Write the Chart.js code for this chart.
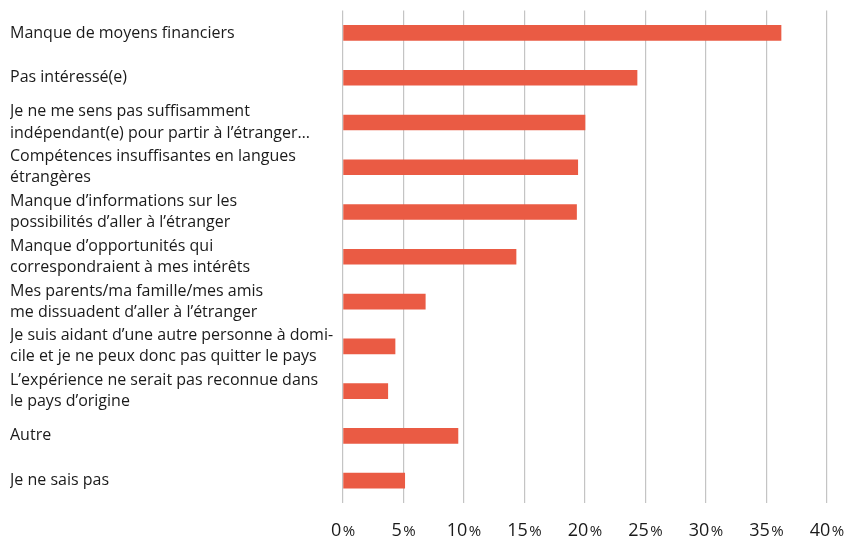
<!DOCTYPE html>
<html>
<head>
<meta charset="utf-8">
<script src="https://cdn.jsdelivr.net/npm/chart.js@4.4.1/dist/chart.umd.min.js"></script>
<style>
  html, body { margin: 0; padding: 0; background: #ffffff; }
  #wrap { width: 847px; height: 538px; position: relative; }
</style>
</head>
<body>
<div id="wrap"><canvas id="c"></canvas></div>
<script>
const categories = [
  "Manque de moyens financiers",
  "Pas intéressé(e)",
  ["Je ne me sens pas suffisamment", "indépendant(e) pour partir à l’étranger…"],
  ["Compétences insuffisantes en langues", "étrangères"],
  ["Manque d’informations sur les", "possibilités d’aller à l’étranger"],
  ["Manque d’opportunités qui", "correspondraient à mes intérêts"],
  ["Mes parents/ma famille/mes amis", "me dissuadent d’aller à l’étranger"],
  ["Je suis aidant d’une autre personne à domi-", "cile et je ne peux donc pas quitter le pays"],
  ["L’expérience ne serait pas reconnue dans", "le pays d’origine"],
  "Autre",
  "Je ne sais pas"
];
const values = [36.2, 24.3, 20.0, 19.4, 19.3, 14.3, 6.8, 4.3, 3.7, 9.5, 5.1];
const xTicks = [0, 5, 10, 15, 20, 25, 30, 35, 40];

const FONT = "'Open Sans', 'DejaVu Sans', sans-serif";

const pctTicks = {
  id: 'pctTicks',
  afterDraw(chart) {
    const sx = chart.scales.x;
    const ctx = chart.ctx;
    ctx.save();
    ctx.fillStyle = '#1a1a1a';
    ctx.textBaseline = 'alphabetic';
    ctx.textAlign = 'left';
    const y = 536;
    xTicks.forEach(v => {
      const px = sx.getPixelForValue(v);
      const num = String(v);
      ctx.font = "18px " + FONT;
      const w1 = ctx.measureText(num).width;
      ctx.font = "15px " + FONT;
      const w2 = ctx.measureText('%').width;
      const gap = 1.5;
      const start = px - (w1 + gap + w2) / 2;
      ctx.font = "18px " + FONT;
      ctx.fillText(num, start, y);
      ctx.font = "15px " + FONT;
      ctx.fillText('%', start + w1 + gap, y);
    });
    ctx.restore();
  }
};

new Chart(document.getElementById('c'), {
  type: 'bar',
  data: {
    labels: categories,
    datasets: [{
      data: values,
      backgroundColor: '#EA5B44',
      borderWidth: 0,
      barThickness: 15
    }]
  },
  options: {
    indexAxis: 'y',
    responsive: true,
    maintainAspectRatio: false,
    animation: false,
    layout: { padding: { left: 10, right: 20, top: 10, bottom: 0 } },
    plugins: { legend: { display: false }, tooltip: { enabled: false } },
    scales: {
      x: {
        min: 0, max: 40,
        afterBuildTicks: (scale) => { scale.ticks = xTicks.map(v => ({ value: v })); },
        afterFit: (scale) => { scale.paddingLeft = 0; scale.paddingRight = 0; scale.height = 35; },
        grid: { color: '#c4c4c4', lineWidth: 1.2, drawTicks: false },
        border: { display: false },
        ticks: {
          color: 'rgba(0,0,0,0)',
          padding: 14,
          font: { family: FONT, size: 18 },
          callback: (v) => v + '%'
        }
      },
      y: {
        afterFit: (scale) => { scale.width = 333; },
        grid: { display: false, drawTicks: false },
        border: { display: false },
        ticks: {
          crossAlign: 'far',
          color: '#1a1a1a',
          padding: 0,
          autoSkip: false,
          font: { family: FONT, size: 16, lineHeight: 1.32 }
        }
      }
    }
  },
  plugins: [pctTicks]
});
</script>
</body>
</html>
